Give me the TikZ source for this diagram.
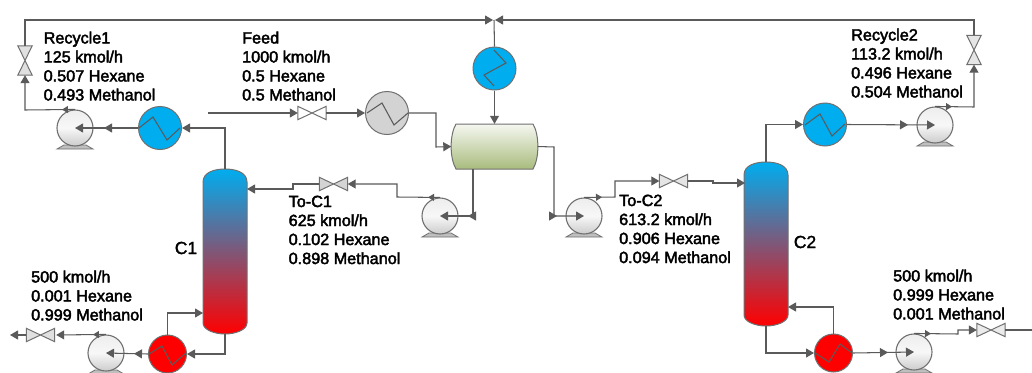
\documentclass[tikz,border=0pt]{standalone}
\usepackage{fontspec}
\setmainfont{Liberation Sans}
\newfontfamily\labfont[FakeBold=2.6]{Liberation Sans}
\newfontfamily\tagfont[FakeBold=1.5]{Liberation Sans}
\usetikzlibrary{arrows.meta,decorations.markings,shadings}
\definecolor{pipec}{HTML}{5A5A5A}
\definecolor{edgec}{HTML}{707070}
\definecolor{hxblue}{HTML}{00ADEF}
\definecolor{hxred}{HTML}{FF0000}
\definecolor{hxgray}{HTML}{D3D3D3}
\definecolor{drumtop}{HTML}{F5F7F0}
\definecolor{drumbot}{HTML}{A9BC7E}
\tikzset{
  pipe/.style={draw=pipec,line width=1.05pt},
  tip/.tip={Triangle[length=8pt,width=9pt]},
  stip/.tip={Triangle[length=6pt,width=7pt]},
  flow/.style={pipe,-{tip}},
  sflow/.style={pipe,-{stip}},
  mtip/.style={postaction={decorate,decoration={markings,mark=at position #1 with {\arrow{Triangle[length=8pt,width=9pt]}}}}},
  smtip/.style={postaction={decorate,decoration={markings,mark=at position #1 with {\arrow{Triangle[length=6pt,width=7pt]}}}}},
  hx/.style={circle,draw=edgec,line width=1pt,fill=#1,inner sep=0pt,minimum size=43pt},
  hxs/.style={hx=#1,minimum size=38pt},
  zig/.style={draw=pipec,line width=1.05pt,line join=miter},
  pumpn/.style={circle,draw=edgec,line width=1.1pt,top color=black!7,bottom color=black!20,middle color=black!3,inner sep=0pt,minimum size=36pt},
  pumpb/.style={draw=edgec,line width=.8pt,fill=black!25},
  vboxh/.style={inner sep=0pt,minimum width=28pt,minimum height=13pt},
  vboxv/.style={inner sep=0pt,minimum width=14pt,minimum height=29pt},
  vdraw/.style={draw=edgec,line width=1pt,fill=#1,line join=miter},
  colbox/.style={inner sep=0pt,minimum width=44pt,minimum height=165pt},
  coldraw/.style={draw=edgec,line width=1pt,top color=hxblue,bottom color=hxred},
  lab/.style={anchor=north west,inner sep=0pt,align=left,text=black,font=\fontsize{16.2pt}{19pt}\labfont},
  tag/.style={inner sep=0pt,text=black,font=\fontsize{17.5pt}{20pt}\tagfont},
}
\newcommand{\pumpat}[3]{%
  \draw[pumpb] (#2-11,#3+17) -- (#2+11,#3+17) -- (#2+18,#3+21) -- (#2-18,#3+21) -- cycle;
  \node[pumpn] (#1) at (#2,#3) {};}
\newcommand{\valveh}[4]{%
  \node[vboxh] (#1) at (#2,#3) {};
  \draw[vdraw=#4] (#1.north west) -- (#1.south east) -- (#1.north east) -- (#1.south west) -- cycle;}
\newcommand{\valvev}[4]{%
  \node[vboxv] (#1) at (#2,#3) {};
  \draw[vdraw=#4] (#1.north west) -- (#1.north east) -- (#1.south west) -- (#1.south east) -- cycle;}
\newcommand{\columnat}[4]{% name, x, top, bottom
  \shade[coldraw] (#2-22,#3+13) .. controls (#2-22,#3+3) and (#2-10,#3) .. (#2,#3)
     .. controls (#2+10,#3) and (#2+22,#3+3) .. (#2+22,#3+13)
     -- (#2+22,#4-11) .. controls (#2+22,#4-4) and (#2+10,#4) .. (#2,#4)
     .. controls (#2-10,#4) and (#2-22,#4-4) .. (#2-22,#4-11) -- cycle;
  \node[colbox,minimum height=#4pt-#3pt] (#1) at (#2,{(#3+#4)/2}) {};}
\begin{document}
\begin{tikzpicture}[x=1pt,y=-1pt]
\clip (0,0) rectangle (1032,372);
\fill[white] (0,0) rectangle (1032,372);

% columns
\columnat{c1}{225}{169}{334}
\columnat{c2}{766}{162}{326}
% drum
\shade[draw=edgec,line width=1pt,top color=drumtop,bottom color=drumbot]
  (456,124) -- (533,124) .. controls (539.5,135) and (539.5,158) .. (533,169)
  -- (456,169) .. controls (449.5,158) and (449.5,135) .. (456,124) -- cycle;
\node[inner sep=0pt,minimum width=86pt,minimum height=45pt] (drum) at (494.5,146.5) {};

% heat exchangers
\node[hx=hxblue] (hx1) at (160,128) {};
\node[hx=hxgray] (hx2) at (387,113) {};
\node[hx=hxblue] (hx3) at (494.5,68.5) {};
\node[hxs=hxred] (hx4) at (167.5,354) {};
\node[hx=hxblue] (hx5) at (825,124.5) {};
\node[hxs=hxred] (hx6) at (833.5,353) {};
\draw[zig] (139,128) -- (153,117) -- (167,140) -- (180,128);
\draw[zig] (367,113) -- (382,103) -- (394,125) -- (408,113);
\draw[zig] (494,50) -- (506,63) -- (484,75) -- (494,86);
\draw[zig] (149,354) -- (162,346) -- (172,365) -- (186,353);
\draw[zig] (805,125) -- (820,114) -- (832,136) -- (845,124);
\draw[zig] (815,353) -- (829,362) -- (840,344) -- (852,353);

% pumps
\pumpat{p1}{75}{128}
\pumpat{p2}{106}{353}
\pumpat{p3}{440}{216}
\pumpat{p4}{584}{216}
\pumpat{p5}{935}{125}
\pumpat{p6}{914}{352}

% valves
\valvev{v1}{25}{60.5}{black!12}
\valveh{v2}{40.5}{335}{black!12}
\valveh{v3}{312}{113}{white}
\valveh{v4}{333.5}{184}{black!17}
\valveh{v5}{673.5}{181}{black!10}
\valvev{v6}{974}{50}{black!10}
\valveh{v7}{991}{330}{black!8}

% named free points
\coordinate (j) at (494,20);
\coordinate (feed) at (208,113);
\coordinate (out1) at (10,335);
\coordinate (out2) at (1032,330);
\coordinate (dbot) at (473,169);
\coordinate (c1feed) at (247,189);
\coordinate (c1reb) at (203,313);
\coordinate (c2feed) at (745,183);
\coordinate (c2reb) at (788,307);

% recycle 1
\draw[flow,mtip=34pt] (hx1.west) -- (p1.center);
\draw[flow,smtip=13pt] (p1.north) -- (25,110) -- (v1.south);
\draw[flow,shorten >=1pt] (v1.north) -- (25,20) -- (j);
% recycle 2
\draw[flow,smtip=17pt] (p5.north) -- (974,107) -- (v6.south);
\draw[flow,shorten >=-3pt] (v6.north) -- (974,20) -- (498,20);
% junction to drum
\draw[pipe] (j) -- (hx3.north);
\draw[flow] (hx3.south) -- (drum.north);
% feed
\draw[flow] (feed) -- (v3.west);
\draw[flow] (v3.east) -- (hx2.west);
\draw[flow] (hx2.east) -- (436,113) -- (436,147) -- (drum.west);
% drum right to column 2
\draw[flow,mtip=-27pt] (drum.east) -- (554,147) -- (554,216) -- (p4.center);
\draw[flow,smtip=18pt] (p4.north) -- (615,197) -- (615,181) -- (v5.west);
\draw[flow] (v5.east) -- (713,181) -- (713,183) -- (c2feed);
% drum bottom to column 1
\draw[flow,mtip=-28pt] (dbot) -- (473,216) -- (p3.center);
\draw[flow,smtip=12pt] (p3.north) -- (397,197) -- (397,184) -- (v4.east);
\draw[flow] (v4.west) -- (293,184) -- (293,189) -- (c1feed);
% column 1
\draw[flow] (c1.north) |- (hx1.east);
\draw[flow] (c1.south) |- (hx4.east);
\draw[flow] (hx4.north) |- (c1reb);
\draw[flow,mtip=14pt] (hx4.west) -- (p2.center);
\draw[flow,smtip=13pt,shorten >=1.5pt] (p2.north) -- (v2.east);
\draw[flow] (v2.west) -- (out1);
% column 2
\draw[flow] (c2.north) |- (hx5.west);
\draw[flow,mtip=61pt] (hx5.east) -- (p5.center);
\draw[flow] (c2.south) |- (hx6.west);
\draw[flow] (hx6.north) |- (c2reb);
\draw[flow,mtip=35pt] (hx6.east) -- (p6.center);
\draw[flow,smtip=17pt] (p6.north) -- (958,334) -- (958,330) -- (v7.west);
\draw[pipe] (v7.east) -- (out2);

% labels
\node[lab] (l1) at (43.5,31.5) {Recycle1\\125 kmol/h\\0.507 Hexane\\0.493 Methanol};
\node[lab] (l2) at (242,31.5) {Feed\\1000 kmol/h\\0.5 Hexane\\0.5 Methanol};
\node[lab] (l3) at (288.5,195.5) {To-C1\\625 kmol/h\\0.102 Hexane\\0.898 Methanol};
\node[lab] (l4) at (851,28.5) {Recycle2\\113.2 kmol/h\\0.496 Hexane\\0.504 Methanol};
\node[lab] (l5) at (619,194.5) {To-C2\\613.2 kmol/h\\0.906 Hexane\\0.094 Methanol};
\node[lab] (l6) at (31,270.5) {500 kmol/h\\0.001 Hexane\\0.999 Methanol};
\node[lab] (l7) at (893,269.5) {500 kmol/h\\0.999 Hexane\\0.001 Methanol};
\node[tag] (t1) at (186,248) {C1};
\node[tag] (t2) at (805,242) {C2};
\end{tikzpicture}
\end{document}
